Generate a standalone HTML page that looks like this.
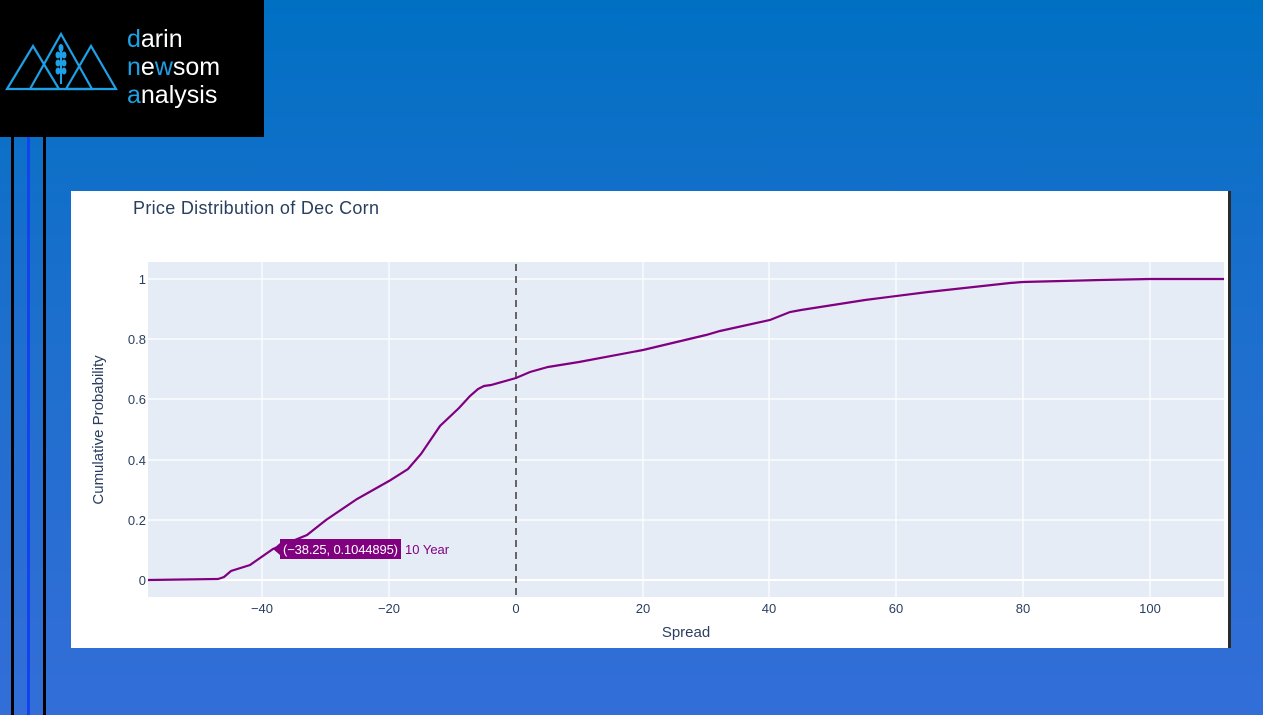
<!DOCTYPE html>
<html><head><meta charset="utf-8"><style>
body{margin:0;width:1263px;height:715px;overflow:hidden;background:linear-gradient(180deg,#0070c3 0%,#1a6fcc 40%,#336ed8 100%);font-family:"Liberation Sans",sans-serif;position:relative}
.logo{position:absolute;left:0;top:0;width:264px;height:137px;background:#000}
.vl{position:absolute;top:137px;height:578px;width:3px}
</style></head><body>
<div class="logo">
<svg width="264" height="137" style="position:absolute;left:0;top:0">
<g fill="none" stroke="#1ea0e6" stroke-width="2.2">
<polygon points="7,89 33,46 59,89"/>
<polygon points="30,89 61,34 92,89"/>
<polygon points="66,89 91,46 116,89"/>
</g>
<g stroke="#1ea0e6" stroke-width="2"><line x1="61" y1="45" x2="61" y2="84"/></g>
<g fill="#1ea0e6"><ellipse cx="61" cy="48" rx="2.5" ry="4"/><ellipse cx="58" cy="55" rx="2.5" ry="3.5"/><ellipse cx="64" cy="55" rx="2.5" ry="3.5"/><ellipse cx="58" cy="63" rx="2.5" ry="3.5"/><ellipse cx="64" cy="63" rx="2.5" ry="3.5"/><ellipse cx="58" cy="71" rx="2.5" ry="3.5"/><ellipse cx="64" cy="71" rx="2.5" ry="3.5"/></g>
<g font-family="Liberation Sans, sans-serif" font-size="25" fill="#fff">
<text x="127" y="47"><tspan fill="#1ea0e6">d</tspan>arin</text>
<text x="127" y="75"><tspan fill="#1ea0e6">n</tspan>e<tspan fill="#1ea0e6">w</tspan>som</text>
<text x="127" y="103"><tspan fill="#1ea0e6">a</tspan>nalysis</text>
</g>
</svg>
</div>
<div class="vl" style="left:11px;background:#000"></div>
<div class="vl" style="left:27px;background:#1144ee"></div>
<div class="vl" style="left:43px;background:#000"></div>
<svg width="1263" height="715" style="position:absolute;left:0;top:0">
<rect x="71" y="191" width="1157" height="457" fill="#fff"/>
<rect x="1228" y="191" width="3" height="457" fill="#2a2a2a"/>
<text x="133" y="214" font-size="18" fill="#2a3f5f" textLength="246">Price Distribution of Dec Corn</text>
<rect x="148" y="262" width="1076" height="335" fill="#e5ecf6"/>
<g stroke="#fff" stroke-width="1.2">
<line x1="262" y1="262" x2="262" y2="597"/><line x1="389" y1="262" x2="389" y2="597"/><line x1="643" y1="262" x2="643" y2="597"/><line x1="769" y1="262" x2="769" y2="597"/><line x1="896" y1="262" x2="896" y2="597"/><line x1="1023" y1="262" x2="1023" y2="597"/><line x1="1150" y1="262" x2="1150" y2="597"/>
<line x1="148" y1="279" x2="1224" y2="279"/><line x1="148" y1="339" x2="1224" y2="339"/><line x1="148" y1="399" x2="1224" y2="399"/><line x1="148" y1="460" x2="1224" y2="460"/><line x1="148" y1="520" x2="1224" y2="520"/><line x1="148" y1="580" x2="1224" y2="580" stroke-width="2"/>
</g>
<line x1="516" y1="264" x2="516" y2="597" stroke="#666" stroke-width="2" stroke-dasharray="7,5"/>
<polyline fill="none" stroke="#800080" stroke-width="2.2" points="148,580 218,579 224,577 231,571 250,565 273,549 307,535 326,520 357,499 389,481 408,469 421,454 440,426 459,408 470,396 478,389 484,386 491,385 516,378 530,372 548,367 579,362 643,350 706,335 720,331 770,320 790,312 801,310 865,300 928,292 1010,283 1023,282 1100,280 1150,279 1224,279"/>
<g font-size="13" fill="#2a3f5f" text-anchor="end">
<text x="146" y="284">1</text><text x="146" y="344">0.8</text><text x="146" y="404">0.6</text><text x="146" y="465">0.4</text><text x="146" y="525">0.2</text><text x="146" y="585">0</text>
</g>
<g font-size="13" fill="#2a3f5f" text-anchor="middle">
<text x="262" y="613">−40</text><text x="389" y="613">−20</text><text x="516" y="613">0</text><text x="643" y="613">20</text><text x="769" y="613">40</text><text x="896" y="613">60</text><text x="1023" y="613">80</text><text x="1150" y="613">100</text>
</g>
<text x="686" y="637" font-size="15" fill="#2a3f5f" text-anchor="middle">Spread</text>
<text transform="translate(103,430) rotate(-90)" font-size="15" fill="#2a3f5f" text-anchor="middle">Cumulative Probability</text>
<polygon points="273,549 280,543 280,539 401,539 401,559 280,559 280,555" fill="#800080"/>
<text x="283" y="554" font-size="13" fill="#fff" textLength="115">(−38.25, 0.1044895)</text>
<text x="405" y="554" font-size="13" fill="#800080">10 Year</text>
</svg>
</body></html>
